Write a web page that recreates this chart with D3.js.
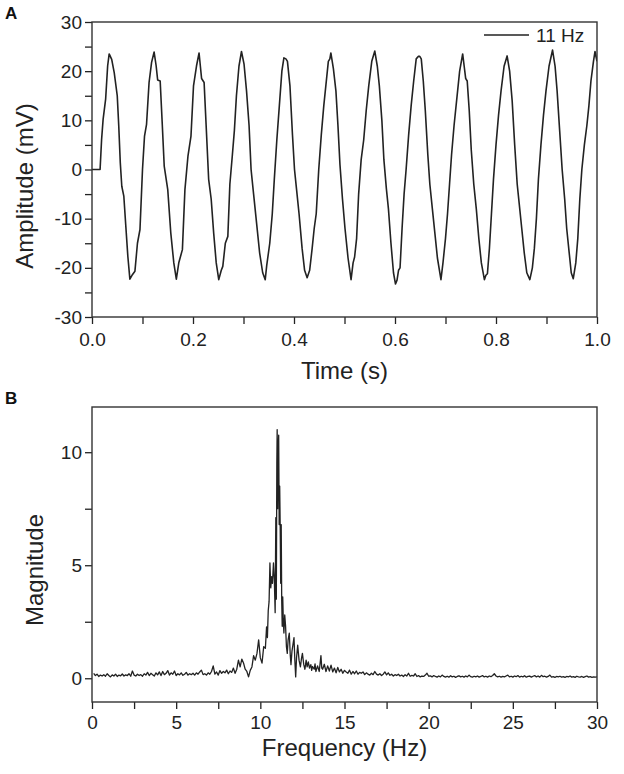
<!DOCTYPE html>
<html>
<head>
<meta charset="utf-8">
<script src="https://cdn.jsdelivr.net/npm/d3@7"></script>
<style>
  body { margin: 0; background: #fff; }
  svg { display: block; font-family: "Liberation Sans", Arial, sans-serif; }
</style>
</head>
<body>
<div id="chart"></div>
<script>
// panel A: recorded signal, [time s, amplitude mV]
const waveform = [
  [0.000,0.0],[0.016,0.0],[0.019,6.1],[0.022,10.2],[0.027,14.3],[0.031,21.1],[0.034,23.5],[0.039,22.4],
  [0.044,19.7],[0.050,15.0],[0.053,8.8],[0.056,1.4],[0.059,-3.4],[0.063,-5.4],[0.067,-11.6],[0.071,-17.7],
  [0.075,-22.3],[0.080,-21.4],[0.085,-20.7],[0.090,-15.0],[0.095,-12.2],[0.100,0.0],[0.104,6.8],[0.108,9.2],
  [0.113,17.7],[0.118,21.8],[0.123,23.9],[0.127,21.1],[0.130,18.2],[0.135,18.0],[0.139,9.5],[0.143,0.7],
  [0.150,-4.1],[0.156,-12.9],[0.162,-19.0],[0.167,-22.3],[0.172,-18.9],[0.179,-16.3],[0.184,-4.1],[0.190,2.7],
  [0.196,6.8],[0.201,17.0],[0.207,21.1],[0.212,23.7],[0.217,18.5],[0.222,17.7],[0.226,9.0],[0.231,-2.0],
  [0.236,-6.0],[0.241,-13.0],[0.246,-19.0],[0.251,-22.4],[0.256,-20.5],[0.259,-19.7],[0.264,-15.0],[0.269,-13.6],
  [0.273,-3.0],[0.278,3.0],[0.282,8.0],[0.286,15.0],[0.291,21.0],[0.296,24.0],[0.301,21.5],[0.306,16.0],
  [0.311,9.0],[0.315,0.0],[0.320,-5.0],[0.326,-11.0],[0.332,-17.0],[0.338,-21.0],[0.343,-22.4],[0.346,-19.5],
  [0.352,-15.0],[0.357,-9.0],[0.361,-2.0],[0.366,6.0],[0.371,13.0],[0.376,20.0],[0.380,22.7],[0.384,22.5],
  [0.387,22.0],[0.392,17.0],[0.397,7.0],[0.401,0.0],[0.405,-4.0],[0.410,-9.0],[0.416,-16.0],[0.421,-20.5],
  [0.426,-22.0],[0.431,-20.5],[0.436,-16.0],[0.440,-12.0],[0.444,-9.0],[0.449,0.0],[0.454,7.0],[0.459,13.0],
  [0.465,19.0],[0.468,22.0],[0.471,22.5],[0.473,23.7],[0.478,20.5],[0.483,16.0],[0.487,9.0],[0.491,1.0],
  [0.496,-6.0],[0.501,-12.0],[0.507,-18.0],[0.513,-22.4],[0.517,-19.0],[0.520,-17.8],[0.524,-14.0],[0.528,-5.0],
  [0.533,2.0],[0.538,6.0],[0.543,12.0],[0.548,17.0],[0.554,22.0],[0.560,24.1],[0.565,21.0],[0.569,17.0],
  [0.574,10.0],[0.578,2.0],[0.583,-4.0],[0.587,-8.0],[0.592,-15.0],[0.597,-21.0],[0.601,-23.3],[0.604,-22.5],
  [0.607,-20.5],[0.610,-20.0],[0.614,-12.0],[0.618,-5.0],[0.622,0.0],[0.627,7.0],[0.632,13.0],[0.637,18.0],
  [0.642,22.5],[0.646,23.0],[0.649,23.0],[0.652,22.5],[0.656,18.0],[0.660,12.0],[0.665,3.0],[0.669,-3.0],
  [0.674,-8.0],[0.679,-13.0],[0.684,-18.0],[0.691,-22.4],[0.695,-19.0],[0.700,-14.0],[0.704,-9.0],[0.708,-3.0],
  [0.712,3.0],[0.717,9.0],[0.722,14.0],[0.728,20.0],[0.734,23.5],[0.737,21.0],[0.740,18.5],[0.743,18.0],
  [0.747,12.0],[0.751,4.0],[0.756,-3.0],[0.761,-8.0],[0.766,-14.0],[0.771,-19.0],[0.777,-22.4],[0.780,-21.5],
  [0.783,-21.2],[0.787,-16.0],[0.791,-9.0],[0.795,-2.0],[0.800,5.0],[0.805,11.0],[0.810,16.0],[0.816,21.0],
  [0.822,23.1],[0.827,20.0],[0.832,14.0],[0.837,5.0],[0.842,-3.0],[0.846,-7.0],[0.851,-12.0],[0.856,-17.0],
  [0.861,-21.0],[0.867,-22.4],[0.872,-20.0],[0.876,-16.0],[0.880,-10.0],[0.884,-2.0],[0.889,5.0],[0.894,11.0],
  [0.899,16.0],[0.905,21.0],[0.912,24.3],[0.917,21.0],[0.921,16.0],[0.926,8.0],[0.931,0.0],[0.936,-6.0],
  [0.940,-12.0],[0.945,-17.0],[0.949,-21.0],[0.953,-22.2],[0.958,-19.0],[0.962,-14.0],[0.966,-6.0],[0.970,0.0],
  [0.975,5.0],[0.980,9.0],[0.984,13.0],[0.988,18.0],[0.993,22.0],[0.996,24.0],[1.000,22.0]
];

// panel B: FFT magnitude, [frequency Hz, magnitude]
const spectrum = [
  [0.1,0.22],[0.2,0.12],[0.3,0.18],[0.4,0.08],[0.5,0.14],[0.6,0.10],[0.7,0.16],[0.8,0.09],[0.9,0.20],[1.0,0.12],
  [1.1,0.06],[1.2,0.15],[1.3,0.10],[1.4,0.18],[1.5,0.08],[1.6,0.14],[1.7,0.11],[1.8,0.19],[1.9,0.10],[2.0,0.15],
  [2.1,0.12],[2.2,0.20],[2.3,0.09],[2.4,0.32],[2.5,0.14],[2.6,0.10],[2.7,0.18],[2.8,0.12],[2.9,0.16],[3.0,0.09],
  [3.1,0.20],[3.2,0.14],[3.3,0.26],[3.4,0.12],[3.5,0.22],[3.6,0.16],[3.7,0.10],[3.8,0.24],[3.9,0.15],[4.0,0.28],
  [4.1,0.12],[4.2,0.30],[4.3,0.16],[4.4,0.22],[4.5,0.34],[4.6,0.14],[4.7,0.24],[4.8,0.18],[4.9,0.32],[5.0,0.12],
  [5.1,0.20],[5.2,0.15],[5.3,0.24],[5.4,0.13],[5.5,0.18],[5.6,0.26],[5.7,0.14],[5.8,0.20],[5.9,0.16],[6.0,0.22],
  [6.1,0.14],[6.2,0.24],[6.3,0.18],[6.4,0.28],[6.5,0.36],[6.6,0.16],[6.7,0.20],[6.8,0.14],[6.9,0.24],[7.0,0.18],
  [7.1,0.30],[7.2,0.55],[7.3,0.18],[7.4,0.28],[7.5,0.14],[7.6,0.34],[7.7,0.22],[7.8,0.30],[7.9,0.24],[8.0,0.36],
  [8.1,0.20],[8.2,0.32],[8.3,0.26],[8.4,0.45],[8.5,0.22],[8.6,0.40],[8.7,0.80],[8.8,0.50],[8.9,0.85],[9.0,0.68],
  [9.1,0.40],[9.2,0.30],[9.3,0.06],[9.4,0.35],[9.5,0.50],[9.6,1.00],[9.7,0.80],[9.8,1.10],[9.9,1.70],[10.0,0.90],
  [10.1,0.67],[10.2,1.40],[10.3,1.33],[10.37,2.27],[10.42,1.8],[10.47,3.0],[10.52,3.4],[10.57,5.1],[10.62,4.0],
  [10.67,4.5],[10.72,4.2],[10.78,5.1],[10.83,4.4],[10.88,2.9],[10.92,7.1],[10.95,3.5],[10.98,9.5],[11.00,11.0],
  [11.03,7.5],[11.06,10.0],[11.09,10.75],[11.12,6.8],[11.15,8.5],[11.18,6.7],[11.21,4.2],[11.24,6.8],[11.27,3.45],
  [11.30,2.3],[11.33,3.6],[11.37,2.4],[11.40,2.0],[11.45,2.8],[11.50,2.3],[11.55,1.4],[11.60,1.1],[11.65,1.7],
  [11.72,2.0],[11.78,1.0],[11.82,0.6],[11.88,1.2],[11.94,1.5],[12.00,1.8],[12.05,0.8],[12.10,0.06],[12.15,0.9],
  [12.22,1.46],[12.30,0.8],[12.38,0.5],[12.45,0.9],[12.50,1.1],[12.58,0.6],[12.65,0.4],[12.72,0.8],[12.78,0.5],
  [12.85,0.72],[12.92,0.45],[13.0,0.6],[13.05,0.35],[13.1,0.52],[13.2,0.4],[13.25,0.64],[13.3,0.3],[13.4,0.55],
  [13.5,0.3],[13.6,1.0],[13.65,0.45],[13.7,0.4],[13.8,0.62],[13.9,0.3],[14.0,0.55],
  [14.1,0.32],[14.2,0.58],[14.3,0.28],[14.4,0.45],[14.5,0.24],[14.6,0.48],[14.7,0.28],[14.8,0.40],[14.9,0.22],[15.0,0.35],
  [15.1,0.28],[15.2,0.22],[15.3,0.36],[15.4,0.18],[15.5,0.30],[15.6,0.20],[15.7,0.32],[15.8,0.18],[15.9,0.26],[16.0,0.22],
  [16.1,0.28],[16.2,0.16],[16.3,0.24],[16.4,0.18],[16.5,0.14],[16.6,0.22],[16.7,0.16],[16.8,0.30],[16.9,0.18],[17.0,0.14],
  [17.1,0.20],[17.2,0.12],[17.3,0.18],[17.4,0.28],[17.5,0.15],[17.6,0.24],[17.7,0.13],[17.8,0.18],[17.9,0.10],[18.0,0.16],
  [18.1,0.12],[18.2,0.18],[18.3,0.10],[18.4,0.14],[18.5,0.08],[18.6,0.16],[18.7,0.10],[18.8,0.22],[18.9,0.09],[19.0,0.13],
  [19.1,0.10],[19.2,0.20],[19.3,0.08],[19.4,0.12],[19.5,0.06],[19.6,0.10],[19.7,0.08],[19.8,0.14],[19.9,0.22],[20.0,0.09],
  [20.1,0.11],[20.2,0.06],[20.3,0.12],[20.4,0.08],[20.5,0.05],[20.6,0.10],[20.7,0.06],[20.8,0.14],[20.9,0.08],[21.0,0.05],
  [21.1,0.09],[21.2,0.05],[21.3,0.11],[21.4,0.06],[21.5,0.09],[21.6,0.04],[21.7,0.08],[21.8,0.11],[21.9,0.06],[22.0,0.09],
  [22.1,0.05],[22.2,0.10],[22.3,0.06],[22.4,0.14],[22.5,0.07],[22.6,0.05],[22.7,0.09],[22.8,0.06],[22.9,0.10],[23.0,0.05],
  [23.1,0.08],[23.2,0.12],[23.3,0.06],[23.4,0.09],[23.5,0.05],[23.6,0.10],[23.7,0.07],[23.8,0.12],[23.9,0.20],[24.0,0.10],
  [24.1,0.06],[24.2,0.09],[24.3,0.05],[24.4,0.08],[24.5,0.06],[24.6,0.10],[24.7,0.14],[24.8,0.06],[24.9,0.09],[25.0,0.05],
  [25.1,0.10],[25.2,0.07],[25.3,0.12],[25.4,0.05],[25.5,0.09],[25.6,0.06],[25.7,0.11],[25.8,0.05],[25.9,0.08],[26.0,0.10],
  [26.1,0.05],[26.2,0.09],[26.3,0.12],[26.4,0.06],[26.5,0.10],[26.6,0.05],[26.7,0.13],[26.8,0.07],[26.9,0.09],[27.0,0.05],
  [27.1,0.08],[27.2,0.14],[27.3,0.05],[27.4,0.07],[27.5,0.04],[27.6,0.08],[27.7,0.06],[27.8,0.09],[27.9,0.05],[28.0,0.07],
  [28.1,0.04],[28.2,0.08],[28.3,0.06],[28.4,0.10],[28.5,0.05],[28.6,0.07],[28.7,0.04],[28.8,0.09],[28.9,0.06],[29.0,0.05],
  [29.1,0.08],[29.2,0.04],[29.3,0.07],[29.4,0.10],[29.5,0.05],[29.6,0.07],[29.7,0.04],[29.8,0.06],[29.9,0.05],[30.0,0.06]
];

// ticks (major ones get labels)
const timeTicks = [0, 0.1, 0.2, 0.3, 0.4, 0.5, 0.6, 0.7, 0.8, 0.9, 1.0];
const timeLabels = [0, 0.2, 0.4, 0.6, 0.8, 1.0];
const ampTicks = [-30, -25, -20, -15, -10, -5, 0, 5, 10, 15, 20, 25, 30];
const ampLabels = [-30, -20, -10, 0, 10, 20, 30];
const freqTicks = [0, 2.5, 5, 7.5, 10, 12.5, 15, 17.5, 20, 22.5, 25, 27.5, 30];
const freqLabels = [0, 5, 10, 15, 20, 25, 30];
const magTicks = [0, 2.5, 5, 7.5, 10];
const magLabels = [0, 5, 10];
const legendLabel = "11 Hz";

const width = 624, height = 774;
const ink = "#222";

const svg = d3.select("#chart").append("svg")
  .attr("width", width)
  .attr("height", height);

const left = 92, right = 597;

const panels = [
  {
    letter: "A", top: 22, bottom: 317,
    data: waveform, xDomain: [0, 1], yDomain: [-30, 30],
    xTicks: timeTicks, xLabels: timeLabels, xFmt: d3.format(".1f"), xPad: 9,
    yTicks: ampTicks, yLabels: ampLabels,
    xTitle: "Time (s)", xTitleY: 379,
    yTitle: "Amplitude (mV)", yTitleX: 33, yTitleY: 186, stroke: 1.6
  },
  {
    letter: "B", top: 407, bottom: 702,
    data: spectrum, xDomain: [0, 30], yDomain: [-1.05, 12],
    xTicks: freqTicks, xLabels: freqLabels, xFmt: d3.format("d"), xPad: 7,
    yTicks: magTicks, yLabels: magLabels,
    xTitle: "Frequency (Hz)", xTitleY: 756,
    yTitle: "Magnitude", yTitleX: 43, yTitleY: 570, stroke: 1.3
  }
];

panels.forEach(p => {
  const x = d3.scaleLinear().domain(p.xDomain).range([left, right]);
  const y = d3.scaleLinear().domain(p.yDomain).range([p.bottom, p.top]);
  const g = svg.append("g");

  const xAxis = d3.axisBottom(x)
    .tickValues(p.xTicks)
    .tickSize(7)
    .tickSizeOuter(0)
    .tickPadding(p.xPad)
    .tickFormat(d => p.xLabels.some(v => Math.abs(v - d) < 1e-9) ? p.xFmt(d) : "");

  const yAxis = d3.axisLeft(y)
    .tickValues(p.yTicks)
    .tickSize(7)
    .tickSizeOuter(0)
    .tickPadding(3)
    .tickFormat(d => p.yLabels.includes(d) ? d : "");

  const gx = g.append("g").attr("transform", `translate(0,${p.bottom})`).call(xAxis);
  const gy = g.append("g").attr("transform", `translate(${left},0)`).call(yAxis);

  [gx, gy].forEach(ax => {
    ax.select(".domain").remove();
    ax.selectAll(".tick line").attr("stroke", ink).attr("stroke-width", 1.3);
    ax.selectAll(".tick text")
      .attr("fill", ink)
      .style("font-size", "19px")
      .style("font-family", "'Liberation Sans', Arial, sans-serif");
  });

  const clipId = "clip" + p.letter;
  g.append("clipPath").attr("id", clipId)
    .append("rect")
    .attr("x", left).attr("y", p.top)
    .attr("width", right - left).attr("height", p.bottom - p.top);

  const line = d3.line()
    .x(d => x(d[0]))
    .y(d => y(d[1]));

  g.append("path")
    .datum(p.data)
    .attr("clip-path", `url(#${clipId})`)
    .attr("fill", "none")
    .attr("stroke", ink)
    .attr("stroke-width", p.stroke)
    .attr("stroke-linejoin", "round")
    .attr("d", line);

  // frame
  g.append("rect")
    .attr("x", left).attr("y", p.top)
    .attr("width", right - left).attr("height", p.bottom - p.top)
    .attr("fill", "none")
    .attr("stroke", "#333")
    .attr("stroke-width", 1.4);

  g.append("text")
    .attr("x", (left + right) / 2)
    .attr("y", p.xTitleY)
    .attr("text-anchor", "middle")
    .attr("fill", ink)
    .style("font-size", "24px")
    .text(p.xTitle);

  g.append("text")
    .attr("transform", `translate(${p.yTitleX},${p.yTitleY}) rotate(-90)`)
    .attr("text-anchor", "middle")
    .attr("fill", ink)
    .style("font-size", "24px")
    .text(p.yTitle);

  g.append("text")
    .attr("x", 5)
    .attr("y", p.top - 3)
    .attr("fill", "#111")
    .style("font-size", "17px")
    .style("font-weight", "bold")
    .text(p.letter);
});

// legend for panel A
const legend = svg.append("g");
legend.append("line")
  .attr("x1", 484).attr("x2", 529)
  .attr("y1", 35).attr("y2", 35)
  .attr("stroke", ink).attr("stroke-width", 1.4);
legend.append("text")
  .attr("x", 536).attr("y", 42)
  .attr("fill", ink)
  .style("font-size", "19px")
  .text(legendLabel);
</script>
</body>
</html>
